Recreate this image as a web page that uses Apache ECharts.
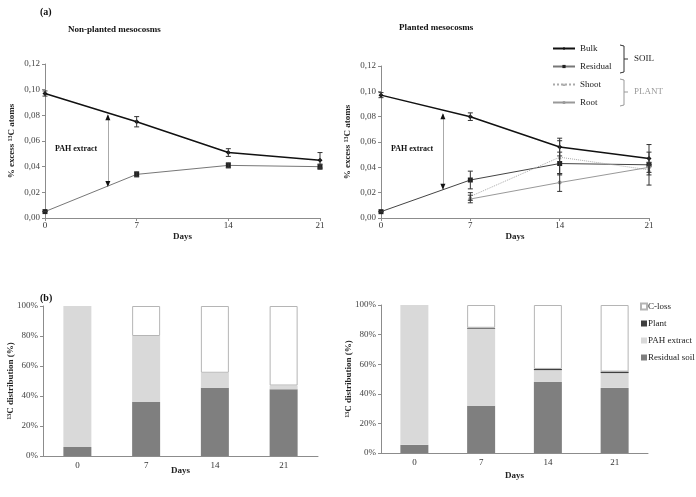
<!DOCTYPE html>
<html>
<head>
<meta charset="utf-8">
<script src="https://cdn.jsdelivr.net/npm/echarts@6/dist/echarts.min.js"></script>
<style>
  html, body { margin: 0; padding: 0; background: #fff; }
</style>
</head>
<body>
<div id="myChart" style="width: 696px; height: 497px;"></div>
<script>
  // data
  let days = [0, 7, 14, 21]
  let dayLabels = ['0', '7', '14', '21']

  // (a) non-planted
  let npBulk = [0.097, 0.075, 0.051, 0.045]
  let npBulkErr = [0.002, 0.004, 0.003, 0.006]
  let npResidual = [0.005, 0.034, 0.041, 0.040]
  let npResidualErr = [0, 0.002, 0.002, 0.002]

  // (a) planted
  let pBulk = [0.097, 0.080, 0.056, 0.047]
  let pBulkErr = [0.002, 0.003, 0.007, 0.005]
  let pResidual = [0.005, 0.030, 0.043, 0.042]
  let pResidualErr = [0, 0.007, 0.009, 0.016]
  let plantDays = [7, 14, 21]
  let pShoot = [0.017, 0.048, 0.038]
  let pShootErr = [0.003, 0.013, 0.004]
  let pRoot = [0.015, 0.028, 0.040]
  let pRootErr = [0.003, 0.007, 0.004]

  // (b) 13C distribution (%)  (null = no segment)
  let npResidualSoil = [6, 36, 45.5, 44.5]
  let npPahExtract = [94, 44, 10, 2.5]
  let npCloss = [null, 20, 44.5, 53]

  let pResidualSoil = [5.5, 32, 48, 44]
  let pPahExtract = [94.5, 52, 8, 10]
  let pPlant = [null, 0.6, 0.8, 1]
  let pCloss = [null, 15.4, 43.2, 45]

  let font = 'Liberation Serif'
  let axisGray = '#8c8c8c'

  let pairs = (xs, ys) => xs.map((x, i) => [x, ys[i]])
  let errPairs = (xs, ys, es) => xs.map((x, i) => [x, ys[i] - es[i], ys[i] + es[i]])

  function errorSeries(idx, data) {
    return {
      type: 'custom',
      xAxisIndex: idx, yAxisIndex: idx,
      silent: true,
      z: 5,
      data: data,
      renderItem: function (params, api) {
        let lo = api.coord([api.value(0), api.value(1)])
        let hi = api.coord([api.value(0), api.value(2)])
        let c = 2.5
        let st = { stroke: '#333', lineWidth: 1 }
        return {
          type: 'group',
          children: [
            { type: 'line', shape: { x1: lo[0], y1: lo[1], x2: hi[0], y2: hi[1] }, style: st },
            { type: 'line', shape: { x1: lo[0] - c, y1: lo[1], x2: lo[0] + c, y2: lo[1] }, style: st },
            { type: 'line', shape: { x1: hi[0] - c, y1: hi[1], x2: hi[0] + c, y2: hi[1] }, style: st }
          ]
        }
      }
    }
  }

  function lineAxisX(idx) {
    return {
      gridIndex: idx, type: 'value', min: 0, max: 21, interval: 7,
      name: 'Days', nameLocation: 'middle', nameGap: 14, nameMoveOverlap: false,
      nameTextStyle: { fontFamily: font, fontWeight: 'bold', fontSize: 9, color: '#222' },
      axisLine: { lineStyle: { color: axisGray } },
      axisTick: { length: 3, lineStyle: { color: axisGray } },
      axisLabel: { fontFamily: font, fontSize: 9, color: '#333', margin: 3 },
      splitLine: { show: false }
    }
  }

  function lineAxisY(idx) {
    return {
      gridIndex: idx, type: 'value', min: 0, max: 0.12, interval: 0.02,
      name: '{n|% excess }{s|13}{n|C atoms}', nameLocation: 'middle', nameGap: 28, nameMoveOverlap: false,
      nameTextStyle: {
        rich: {
          n: { fontFamily: font, fontWeight: 'bold', fontSize: 9, color: '#222' },
          s: { fontFamily: font, fontWeight: 'bold', fontSize: 6, color: '#222', verticalAlign: 'top', padding: [0, 0, 4, 0] }
        }
      },
      axisLine: { show: true, lineStyle: { color: axisGray } },
      axisTick: { show: true, length: 3, lineStyle: { color: axisGray } },
      axisLabel: {
        fontFamily: font, fontSize: 9, color: '#444', margin: 5,
        formatter: v => v.toFixed(2).replace('.', ',')
      },
      splitLine: { show: false }
    }
  }

  function barAxisX(idx) {
    return {
      gridIndex: idx, type: 'category', data: dayLabels,
      name: 'Days', nameLocation: 'middle', nameGap: idx === 2 ? 10 : 18, nameMoveOverlap: false,
      nameTextStyle: { fontFamily: font, fontWeight: 'bold', fontSize: 9, color: '#222' },
      axisLine: { lineStyle: { color: axisGray } },
      axisTick: { length: 3, lineStyle: { color: axisGray } },
      axisLabel: { fontFamily: font, fontSize: 9, color: '#333', margin: 5 }
    }
  }

  function barAxisY(idx) {
    return {
      gridIndex: idx, type: 'value', min: 0, max: 100, interval: 20,
      name: '{s|13}{n|C distribution (%)}', nameLocation: 'middle', nameGap: 27, nameMoveOverlap: false,
      nameTextStyle: {
        rich: {
          n: { fontFamily: font, fontWeight: 'bold', fontSize: 9, color: '#222' },
          s: { fontFamily: font, fontWeight: 'bold', fontSize: 6, color: '#222', verticalAlign: 'top', padding: [0, 0, 4, 0] }
        }
      },
      axisLine: { show: true, lineStyle: { color: axisGray } },
      axisTick: { show: true, length: 3, lineStyle: { color: axisGray } },
      axisLabel: { fontFamily: font, fontSize: 9, color: '#444', margin: 5, formatter: '{value}%' },
      splitLine: { show: false }
    }
  }

  // double arrow "PAH extract": thin grey shaft, black heads
  function arrowLine(idx, x, y1, y2) {
    return {
      type: 'line', xAxisIndex: idx, yAxisIndex: idx, data: [], silent: true,
      markLine: {
        silent: true, symbol: ['none', 'none'],
        label: { show: false },
        lineStyle: { color: '#aaa', width: 1, type: 'solid' },
        data: [[{ coord: [x, y1] }, { coord: [x, y2] }]]
      },
      markPoint: {
        silent: true, symbol: 'triangle', symbolSize: [5, 6],
        label: { show: false },
        itemStyle: { color: '#111' },
        data: [
          { coord: [x, y2], symbolOffset: [0, 2] },
          { coord: [x, y1], symbolRotate: 180, symbolOffset: [0, -2] }
        ]
      }
    }
  }

  let bulkStyle = { symbol: 'diamond', symbolSize: 5, color: '#111', width: 1.5, type: 'solid' }
  let residualStyle = { symbol: 'rect', symbolSize: 5, color: '#222', width: 1, type: 'solid' }

  function lineSeries(name, idx, data, s, lineColor, lineType) {
    return {
      name: name, type: 'line', xAxisIndex: idx, yAxisIndex: idx, data: data,
      symbol: s.symbol, symbolSize: s.symbolSize, z: 4,
      itemStyle: { color: s.color },
      lineStyle: { color: lineColor || s.color, width: s.width, type: lineType || s.type }
    }
  }

  function barSeries(name, idx, data, color, border) {
    return {
      name: name, type: 'bar', stack: 'b' + idx, xAxisIndex: idx, yAxisIndex: idx,
      data: data, barWidth: 28,
      itemStyle: { color: color, borderColor: border || color, borderWidth: border ? 1 : 0 }
    }
  }

  let myChart = echarts.init(document.getElementById('myChart'), null, { renderer: 'canvas' })

  myChart.setOption({
    backgroundColor: '#fff',
    animation: false,
    textStyle: { fontFamily: font },
    grid: [
      { left: 45, top: 64, width: 275, height: 154 },
      { left: 381, top: 66, width: 268, height: 152 },
      { left: 43, top: 306, width: 275, height: 150 },
      { left: 381, top: 305, width: 267, height: 148 }
    ],
    xAxis: [lineAxisX(0), lineAxisX(1), barAxisX(2), barAxisX(3)],
    yAxis: [lineAxisY(0), lineAxisY(1), barAxisY(2), barAxisY(3)],
    legend: [
      {
        data: ['Bulk', 'Residual', 'Shoot', 'Root'],
        orient: 'vertical', left: 552, top: 44, itemGap: 9, padding: 0,
        itemWidth: 22, itemHeight: 4,
        textStyle: { fontFamily: font, fontSize: 9, color: '#222' }
      },
      {
        data: ['C-loss', 'Plant', 'PAH extract', 'Residual soil'],
        orient: 'vertical', left: 640, top: 302, itemGap: 8, padding: 0,
        itemWidth: 6, itemHeight: 6, icon: 'rect',
        textStyle: { fontFamily: font, fontSize: 9, color: '#222', padding: [0, 0, 0, -4] }
      }
    ],
    graphic: [
      { type: 'text', left: 40, top: 7, style: { text: '(a)', font: 'bold 10px "Liberation Serif"', fill: '#111' } },
      { type: 'text', left: 68, top: 25, style: { text: 'Non-planted mesocosms', font: 'bold 9px "Liberation Serif"', fill: '#111' } },
      { type: 'text', left: 399, top: 23, style: { text: 'Planted mesocosms', font: 'bold 9px "Liberation Serif"', fill: '#111' } },
      { type: 'text', left: 40, top: 293, style: { text: '(b)', font: 'bold 10px "Liberation Serif"', fill: '#111' } },
      { type: 'text', left: 55, top: 145, style: { text: 'PAH extract', font: 'bold 8px "Liberation Serif"', fill: '#111' } },
      { type: 'text', left: 391, top: 145, style: { text: 'PAH extract', font: 'bold 8px "Liberation Serif"', fill: '#111' } },
      // braces next to the legend
      { type: 'polyline', shape: { points: [[620, 45], [624, 46], [624, 72], [620, 73]] }, style: { stroke: '#333', fill: null, lineWidth: 1 } },
      { type: 'line', shape: { x1: 624, y1: 59, x2: 628, y2: 59 }, style: { stroke: '#333', lineWidth: 1 } },
      { type: 'text', left: 634, top: 54, style: { text: 'SOIL', font: '9px "Liberation Serif"', fill: '#222' } },
      { type: 'polyline', shape: { points: [[620, 79], [624, 80], [624, 105], [620, 106]] }, style: { stroke: '#999', fill: null, lineWidth: 1 } },
      { type: 'line', shape: { x1: 624, y1: 92, x2: 628, y2: 92 }, style: { stroke: '#999', lineWidth: 1 } },
      { type: 'text', left: 634, top: 87, style: { text: 'PLANT', font: '9px "Liberation Serif"', fill: '#999' } }
    ],
    series: [
      // non-planted
      lineSeries('Bulk', 0, pairs(days, npBulk), bulkStyle),
      lineSeries('Residual', 0, pairs(days, npResidual), residualStyle, '#777'),
      errorSeries(0, errPairs(days, npBulk, npBulkErr)),
      errorSeries(0, errPairs(days, npResidual, npResidualErr)),
      arrowLine(0, 4.8, 0.025, 0.080),

      // planted
      lineSeries('Bulk', 1, pairs(days, pBulk), bulkStyle),
      lineSeries('Residual', 1, pairs(days, pResidual), residualStyle, '#444'),
      lineSeries('Shoot', 1, pairs(plantDays, pShoot), { symbol: 'triangle', symbolSize: 4, color: '#aaa', width: 1, type: 'dotted' }),
      lineSeries('Root', 1, pairs(plantDays, pRoot), { symbol: 'circle', symbolSize: 4, color: '#999', width: 1, type: 'solid' }),
      errorSeries(1, errPairs(days, pBulk, pBulkErr)),
      errorSeries(1, errPairs(days, pResidual, pResidualErr)),
      errorSeries(1, errPairs(plantDays, pShoot, pShootErr)),
      errorSeries(1, errPairs(plantDays, pRoot, pRootErr)),
      arrowLine(1, 4.85, 0.023, 0.082),

      // distribution bars
      barSeries('Residual soil', 2, npResidualSoil, '#7f7f7f'),
      barSeries('PAH extract', 2, npPahExtract, '#d9d9d9'),
      barSeries('C-loss', 2, npCloss, '#ffffff', '#b5b5b5'),

      barSeries('Residual soil', 3, pResidualSoil, '#7f7f7f'),
      barSeries('PAH extract', 3, pPahExtract, '#d9d9d9'),
      barSeries('Plant', 3, pPlant, '#3f3f3f'),
      barSeries('C-loss', 3, pCloss, '#ffffff', '#b5b5b5')
    ]
  });
</script>
</body>
</html>
